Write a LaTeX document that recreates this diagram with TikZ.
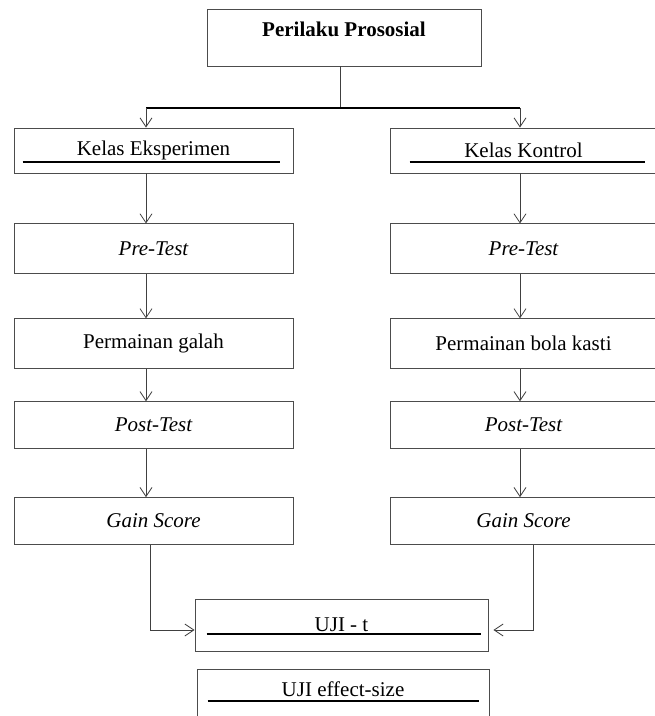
\documentclass[tikz,border=0pt]{standalone}
\usepackage{fontspec}
\setmainfont{Liberation Serif}
\usetikzlibrary{arrows.meta, positioning}

\begin{document}
\fontsize{21}{24}\selectfont
\begin{tikzpicture}[x=1pt, y=-1pt, box/.style={draw=black!70, line width=0.9pt, inner sep=0pt}, colL/.style={box, minimum width=279pt}, colR/.style={box, minimum width=267pt}, arrow/.style={-{Straight Barb[length=9pt, width=12pt]}, draw=black!75, line width=0.8pt}, link/.style={draw=black!75, line width=0.8pt}, uline/.style={line width=2.2pt}]

\useasboundingbox (0,0) rectangle (655,716);

\node[box, minimum width=274pt, minimum height=57pt] (top) at (344,37.5) {};
\node[font=\bfseries] (toptxt) at ([yshift=8.5pt]top.center) {Perilaku Prososial};

\node[colL, minimum height=45pt] (kelasE) at (153.5,150.5) {Kelas Eksperimen};
\node[colL, minimum height=50pt, below=50pt of kelasE] (preE) {\itshape Pre-Test};
\node[colL, minimum height=50pt, below=44pt of preE] (gameE) {Permainan galah};
\node[colL, minimum height=47pt, below=32pt of gameE] (postE) {\itshape Post-Test};
\node[colL, minimum height=47pt, below=48pt of postE] (gainE) {\itshape Gain Score};

\node[colR, minimum height=45pt] (kelasK) at (523.5,150.5) {Kelas Kontrol};
\node[colR, minimum height=50pt, below=50pt of kelasK] (preK) {\itshape Pre-Test};
\node[colR, minimum height=50pt, below=44pt of preK] (gameK) {Permainan bola kasti};
\node[colR, minimum height=47pt, below=32pt of gameK] (postK) {\itshape Post-Test};
\node[colR, minimum height=47pt, below=48pt of postK] (gainK) {\itshape Gain Score};

\node[box, minimum width=293pt, minimum height=52pt] (ujiT) at (341.5,625) {UJI - t};
\node[box, minimum width=292pt, minimum height=52pt] (ujiES) at (343,695) {};
\node (ujiEStxt) at ([yshift=6pt]ujiES.center) {UJI effect-size};

% underlines
\draw[uline] ([xshift=9pt, yshift=-11.5pt]kelasE.west) -- ([xshift=-13pt, yshift=-11.5pt]kelasE.east);
\draw[uline] ([xshift=20pt, yshift=-11.5pt]kelasK.west) -- ([xshift=-12pt, yshift=-11.5pt]kelasK.east);
\draw[uline] ([xshift=12pt, yshift=-9pt]ujiT.west) -- ([xshift=-7pt, yshift=-9pt]ujiT.east);
\draw[uline] ([xshift=11pt, yshift=-6pt]ujiES.west) -- ([xshift=-10pt, yshift=-6pt]ujiES.east);

% branching
\coordinate (barL) at (146,108);
\coordinate (barR) at (520,108);
\draw[link] ([xshift=-4pt]top.south) -- ([xshift=-4pt]top.south |- barL);
\draw[line width=2.4pt] (barL) -- (barR);
\draw[arrow] (barL) -- (kelasE.north -| barL);
\draw[arrow] (barR) -- (kelasK.north -| barR);

\foreach \a/\b in {kelasE/preE, preE/gameE, gameE/postE, postE/gainE}
  \draw[arrow] (\a.south -| barL) -- (\b.north -| barL);
\foreach \a/\b in {kelasK/preK, preK/gameK, gameK/postK, postK/gainK}
  \draw[arrow] (\a.south -| barR) -- (\b.north -| barR);

\draw[arrow] ([xshift=-3.5pt]gainE.south) |- ([yshift=-5pt]ujiT.west);
\draw[arrow] ([xshift=9.5pt]gainK.south) |- ([xshift=5pt, yshift=-5pt]ujiT.east);

\end{tikzpicture}
\end{document}
